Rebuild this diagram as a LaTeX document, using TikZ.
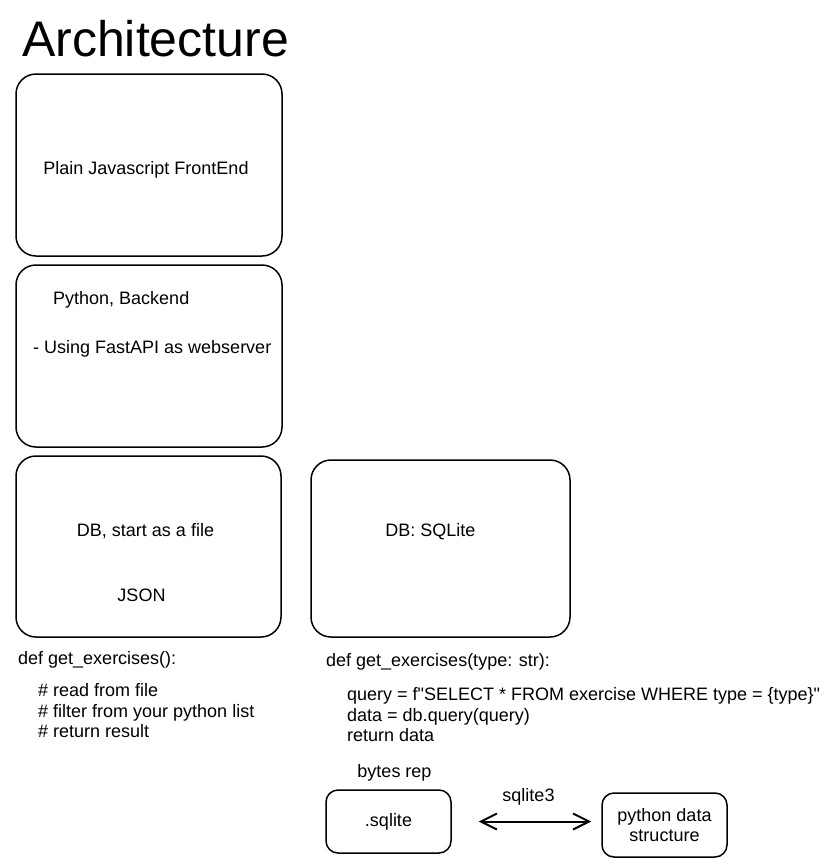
\documentclass[tikz,border=0pt]{standalone}
\usepackage{fontspec}
\setmainfont{Liberation Sans}
\usepackage{tikz}
\usetikzlibrary{calc}
\usetikzlibrary{arrows.meta}

\begin{document}
\begin{tikzpicture}[x=1pt,y=-1pt]%%architecture
	\tikzstyle{box}  = [draw, line width=1.5pt, rounded corners=20pt, inner sep=0pt]
	\tikzstyle{txt}  = [inner sep=0pt, font=\fontsize{18}{20.5}\selectfont]
	\tikzstyle{sbox} = [box, txt, rounded corners=12pt, minimum width=125, minimum height=63, align=center]
	\tikzstyle{code} = [txt, anchor=west, align=left]
	\useasboundingbox (0,0) rectangle (835,865);

	\node [inner sep=0pt, anchor=west, font=\fontsize{50}{56}\selectfont](title) at (22,39) {Architecture};

	\node [box, minimum width=266, minimum height=182](fe) at (149,165) {};
	\node [box, minimum width=266, minimum height=182](be) at (149,356) {};
	\node [box, minimum width=265, minimum height=181](db) at (148.5,546.5) {};
	\node [box, minimum width=259, minimum height=177](sql) at (440.5,548.5) {};

	\node [txt](fetxt) at ($(fe)+(-3,5)$) {Plain Javascript FrontEnd};
	\node [txt, anchor=west](betxt) at ($(be)+(-96,-56)$) {Python, Backend};
	\node [txt, anchor=west](beuse) at ($(be)+(-116,-7)$) {- Using FastAPI as webserver};
	\node [txt](dbtxt) at ($(db)+(-3,-15)$) {DB, start as a file};
	\node [txt](json) at ($(db)+(-7,49)$) {JSON};
	\node [txt](sqltxt) at ($(sql)+(-10,-17)$) {DB: SQLite};

	%% code below the db boxes
	\node [code](def1) at (18,660) {def get\_exercises():};
	\node [code](body1) at (38,711) {\# read from file\\ \# filter from your python list\\ \# return result};
	\node [code](def2) at (326,662) {def get\_exercises(type: str):};
	\node [code](body2) at (347,715) {query = f\textquotedbl SELECT * FROM exercise WHERE type = \{type\}\textquotedbl\\ data = db.query(query)\\ return data};

	%% sqlite to python
	\node [sbox](sq) at (388.5,821.5) {.sqlite};
	\node [sbox, minimum height=64](py) at (664.5,825) {python data\\ structure};
	\node [txt](rep) at ($(sq)+(6,-49)$) {bytes rep};
	\draw [{Straight Barb[length=16pt,width=16pt]}-{Straight Barb[length=16pt,width=16pt]}, line width=2pt, shorten <=27pt, shorten >=10pt] (sq.east) -- (sq.east -| py.west) node [txt, midway, above=15pt, xshift=2pt](lib) {sqlite3};
\end{tikzpicture}
\end{document}
